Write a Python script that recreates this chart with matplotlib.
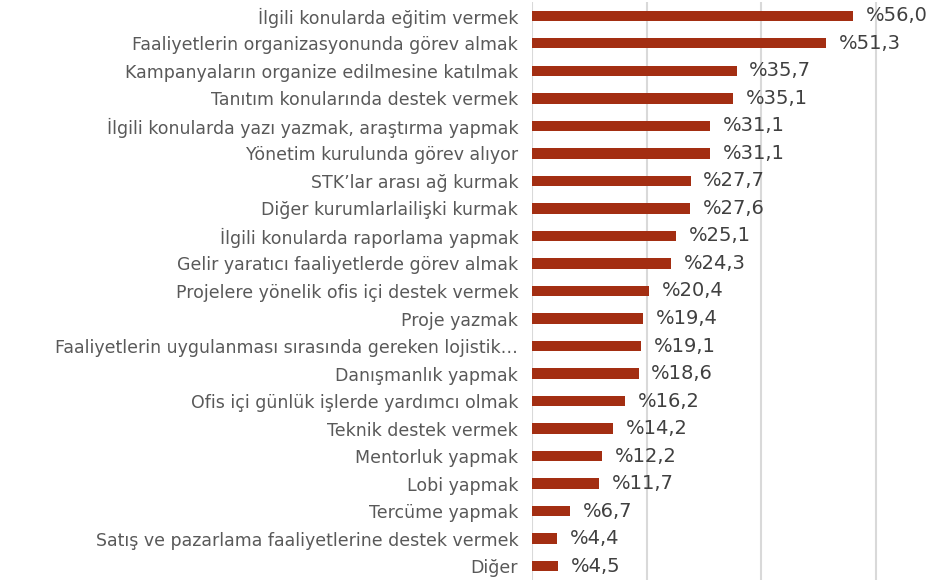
import matplotlib
matplotlib.use("Agg")
import matplotlib.pyplot as plt

categories = [
    "İlgili konularda eğitim vermek",
    "Faaliyetlerin organizasyonunda görev almak",
    "Kampanyaların organize edilmesine katılmak",
    "Tanıtım konularında destek vermek",
    "İlgili konularda yazı yazmak, araştırma yapmak",
    "Yönetim kurulunda görev alıyor",
    "STK’lar arası ağ kurmak",
    "Diğer kurumlarlailişki kurmak",
    "İlgili konularda raporlama yapmak",
    "Gelir yaratıcı faaliyetlerde görev almak",
    "Projelere yönelik ofis içi destek vermek",
    "Proje yazmak",
    "Faaliyetlerin uygulanması sırasında gereken lojistik…",
    "Danışmanlık yapmak",
    "Ofis içi günlük işlerde yardımcı olmak",
    "Teknik destek vermek",
    "Mentorluk yapmak",
    "Lobi yapmak",
    "Tercüme yapmak",
    "Satış ve pazarlama faaliyetlerine destek vermek",
    "Diğer",
]
values = [56.0, 51.3, 35.7, 35.1, 31.1, 31.1, 27.7, 27.6, 25.1, 24.3, 20.4,
          19.4, 19.1, 18.6, 16.2, 14.2, 12.2, 11.7, 6.7, 4.4, 4.5]
value_labels = ["%" + f"{v:.1f}".replace(".", ",") for v in values]
gridlines = [0, 20, 40, 60]

fig = plt.figure(figsize=(9.39, 5.8), dpi=100)
ax = fig.add_axes([0.5666, 0.0, 0.427, 0.9966])

n = len(categories)
ypos = list(range(n))
ax.barh(ypos, values, height=0.38, color="#A32E12", zorder=3)
ax.set_ylim(n - 0.5, -0.5)
ax.set_xlim(0, 70)

for x in gridlines:
    ax.axvline(x, color="#D9D9D9", linewidth=1.5, zorder=1)

for y, v, lab in zip(ypos, values, value_labels):
    ax.text(v + 2.2, y, lab, va="center", ha="left", fontsize=14,
            color="#404040", family="DejaVu Sans")

ax.set_yticks(ypos)
ax.set_yticklabels(categories, fontsize=12.5, color="#595959", family="DejaVu Sans")
ax.tick_params(axis="y", length=0, pad=10)
ax.set_xticks([])
for s in ax.spines.values():
    s.set_visible(False)

fig.savefig("out.png", dpi=100)
